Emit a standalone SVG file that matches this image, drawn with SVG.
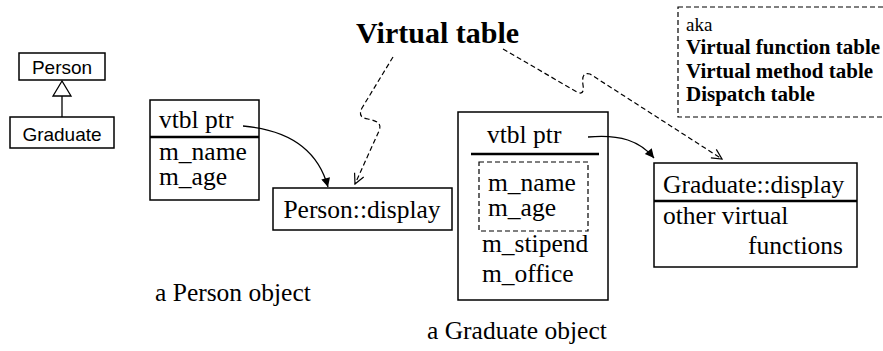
<svg xmlns="http://www.w3.org/2000/svg" width="883" height="351" viewBox="0 0 883 351">
  <style>
    .box { fill: #fff; stroke: #000; stroke-width: 1.5; }
    .dbox { fill: none; stroke: #000; stroke-width: 1.2; stroke-dasharray: 5 3; }
    .div { stroke: #000; stroke-width: 2.5; }
    .serif { font-family: "Liberation Serif", "Times New Roman", serif; fill: #000; }
    .sans { font-family: "Liberation Sans", Arial, sans-serif; fill: #000; }
    .t26 { font-size: 25.5px; }
    .link { fill: none; stroke: #000; stroke-width: 1.3; }
    .dash { fill: none; stroke: #000; stroke-width: 1.2; stroke-dasharray: 5 3; }
  </style>
  <defs>
    <marker id="solidHead" viewBox="0 0 10 10" refX="10" refY="5" markerWidth="11" markerHeight="9" markerUnits="userSpaceOnUse" orient="auto">
      <path d="M0,0 L10,5 L0,10 z" fill="#000"/>
    </marker>
    <marker id="openHead" viewBox="0 0 12 12" refX="11" refY="6" markerWidth="12" markerHeight="12" markerUnits="userSpaceOnUse" orient="auto">
      <path d="M1,1 L11,6 L1,11" fill="none" stroke="#000" stroke-width="1.2"/>
    </marker>
  </defs>

  <!-- UML class hierarchy -->
  <g id="uml-person">
    <rect class="box" x="19" y="53" width="86" height="27"/>
    <text class="sans" x="62" y="74" font-size="19" text-anchor="middle">Person</text>
  </g>
  <g id="uml-graduate">
    <rect class="box" x="10" y="117" width="104" height="31"/>
    <text class="sans" x="62" y="141" font-size="19" text-anchor="middle">Graduate</text>
  </g>

  <!-- Person object layout -->
  <g id="person-object">
    <rect class="box" x="150" y="100" width="109" height="100"/>
    <line class="div" x1="150" y1="137" x2="259" y2="137"/>
    <text class="serif t26" x="159" y="128">vtbl ptr</text>
    <text class="serif t26" x="159" y="160">m_name</text>
    <text class="serif t26" x="159" y="185">m_age</text>
  </g>
  <g id="person-object-label">
    <text class="serif t26" x="155" y="301">a Person object</text>
  </g>

  <!-- Person vtable -->
  <g id="person-display">
    <rect class="box" x="273" y="188" width="179" height="42"/>
    <text class="serif t26" x="362" y="218" text-anchor="middle">Person::display</text>
  </g>

  <!-- Graduate object layout -->
  <g id="graduate-object">
    <rect class="box" x="458" y="112" width="150" height="188"/>
    <text class="serif t26" x="487" y="143">vtbl ptr</text>
    <line class="div" x1="471" y1="154" x2="599" y2="154"/>
    <rect class="dbox" x="479" y="162" width="109" height="69"/>
    <text class="serif t26" x="488" y="191">m_name</text>
    <text class="serif t26" x="488" y="216">m_age</text>
    <text class="serif t26" x="482" y="252">m_stipend</text>
    <text class="serif t26" x="482" y="282">m_office</text>
  </g>
  <g id="graduate-object-label">
    <text class="serif t26" x="427" y="339">a Graduate object</text>
  </g>

  <!-- Graduate vtable -->
  <g id="graduate-display">
    <rect class="box" x="654" y="163" width="203" height="104"/>
    <line class="div" x1="654" y1="201" x2="857" y2="201"/>
    <text class="serif t26" x="663" y="193">Graduate::display</text>
    <text class="serif t26" x="663" y="224">other virtual</text>
    <text class="serif t26" x="843" y="254" text-anchor="end">functions</text>
  </g>

  <!-- Title and alias note -->
  <g id="vtable-title">
    <text class="serif" x="356" y="43" font-size="30" font-weight="bold">Virtual table</text>
  </g>
  <g id="aka-note">
    <rect class="dbox" x="678" y="7" width="215" height="110"/>
    <text class="serif" x="686" y="31" font-size="19">aka</text>
    <text class="serif" x="686" y="54" font-size="21" font-weight="bold">Virtual function table</text>
    <text class="serif" x="686" y="78" font-size="21" font-weight="bold">Virtual method table</text>
    <text class="serif" x="686" y="101" font-size="21" font-weight="bold">Dispatch table</text>
  </g>

  <!-- Connectors -->
  <g id="connectors">
    <line class="link" x1="62" y1="96" x2="62" y2="117" stroke-width="2"/>
    <polygon points="62,81 53,96 71,96" fill="#fff" stroke="#000" stroke-width="1.3"/>
    <path class="link" d="M243,126 C290,130 318,150 328,187" marker-end="url(#solidHead)"/>
    <path class="link" d="M588,137 C620,134 640,141 654,158" marker-end="url(#solidHead)"/>
    <path class="dash" d="M393,57 L362,108 C358,116 362,118 368,119 C378,121 382,124 379,131 L355,184" marker-end="url(#openHead)"/>
    <path class="dash" d="M503,49 L577,92 C583,95 584,91 583,85 C582,77 583,72 590,74 L722,159" marker-end="url(#openHead)"/>
  </g>
</svg>
